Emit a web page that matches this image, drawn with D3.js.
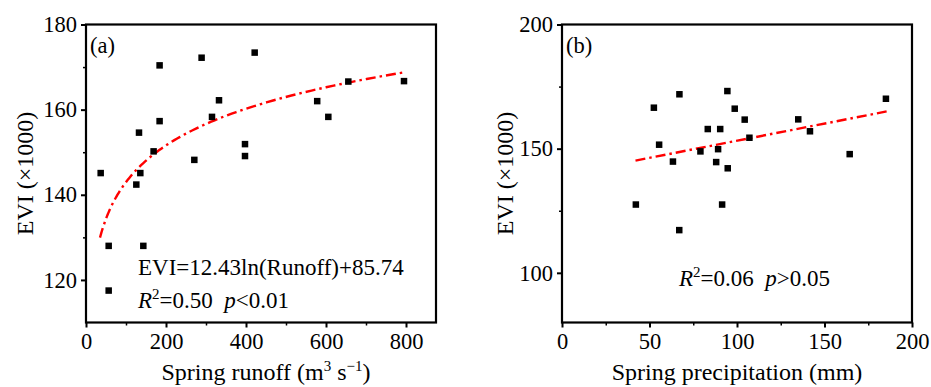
<!DOCTYPE html>
<html><head><meta charset="utf-8">
<script src="https://cdn.jsdelivr.net/npm/d3@7"></script>
<style>
body{margin:0;background:#fff;}
svg{display:block;font-family:"Liberation Serif","Times New Roman",serif;}
</style></head>
<body>
<svg id="chart" width="931" height="387"></svg>
<script>
// Panel (a): spring runoff vs EVI
const runoff = [36.7,125.8,132.5,135.8,169,184,184,270.8,289,315,332.5,397.5,397.5,421.7,578,605.8,655.8,795,56.7,143.3,56.7];
const eviA   = [145.1,142.4,154.6,145.1,150.2,170.4,157.3,148.2,172.2,158.3,162.2,151.9,149.1,173.4,162,158.3,166.6,166.7,128,128,117.5];
// Panel (b): spring precipitation vs EVI
const precip = [52.5,55.5,63.4,67.1,79.1,83.3,88.1,89.2,90.4,94.5,94.7,98.7,104.4,107.1,135,141.7,164.4,185.1,42.2,91.5,67];
const eviB   = [166.5,151.6,144.8,171.9,148.9,157.9,144.6,149.8,157.9,173.2,142.1,166.1,161.7,154.4,161.8,157,147.8,170.1,127.5,127.5,117.2];

// Fits
const fitA = {a: 12.43, b: 85.74, xmin: 35, xmax: 795};
const fitB = {slope: 0.138, intercept: 139.4, xmin: 42, xmax: 185.5};

const xTicksA = [0,200,400,600,800], xMinorA = [100,300,500,700];
const yTicksA = [120,140,160,180], yMinorA = [130,150,170];
const xTicksB = [0,50,100,150,200], xMinorB = [25,75,125,175];
const yTicksB = [100,150,200], yMinorB = [125,175];

const svg = d3.select("#chart");
const pTop = 24.5, pBottom = 322.5;

function panel(cfg){
  const x = d3.scaleLinear().domain(cfg.xdom).range([cfg.left, cfg.right]);
  const y = d3.scaleLinear().domain(cfg.ydom).range([pBottom, pTop]);
  const g = svg.append("g");

  // minor ticks
  g.append("g").attr("transform",`translate(0,${pBottom})`)
    .call(d3.axisBottom(x).tickValues(cfg.xMinor).tickSize(3).tickFormat(""))
    .call(s=>{s.select(".domain").remove(); s.selectAll("line").attr("stroke-width",1.5);});
  g.append("g").attr("transform",`translate(${cfg.left},0)`)
    .call(d3.axisLeft(y).tickValues(cfg.yMinor).tickSize(3).tickFormat(""))
    .call(s=>{s.select(".domain").remove(); s.selectAll("line").attr("stroke-width",1.5);});
  // major ticks
  g.append("g").attr("transform",`translate(0,${pBottom})`)
    .call(d3.axisBottom(x).tickValues(cfg.xTicks).tickSize(5).tickPadding(6).tickFormat(d3.format("d")))
    .call(s=>{s.select(".domain").remove(); s.selectAll("line").attr("stroke-width",2);
      s.selectAll("text").attr("font-size",22.5).attr("fill","#000").attr("font-family","Liberation Serif");});
  g.append("g").attr("transform",`translate(${cfg.left},0)`)
    .call(d3.axisLeft(y).tickValues(cfg.yTicks).tickSize(5).tickPadding(4).tickFormat(d3.format("d")))
    .call(s=>{s.select(".domain").remove(); s.selectAll("line").attr("stroke-width",2);
      s.selectAll("text").attr("font-size",22.5).attr("fill","#000").attr("font-family","Liberation Serif");});

  // frame
  g.append("rect").attr("x",cfg.left).attr("y",pTop)
    .attr("width",cfg.right-cfg.left).attr("height",pBottom-pTop)
    .attr("fill","none").attr("stroke","#000").attr("stroke-width",2.2);

  // fit line
  g.append("path").datum(cfg.fitPts)
    .attr("d", d3.line().x(d=>x(d[0])).y(d=>y(d[1])))
    .attr("fill","none").attr("stroke","#ff0000").attr("stroke-width",2.4)
    .attr("stroke-dasharray","10,4,2.5,4");

  // points
  const s = 6.5;
  g.selectAll("rect.pt").data(cfg.xs.map((v,i)=>[v,cfg.ys[i]])).join("rect")
    .attr("class","pt")
    .attr("x",d=>x(d[0])-s/2).attr("y",d=>y(d[1])-s/2)
    .attr("width",s).attr("height",s).attr("fill","#000");

  // panel label
  g.append("text").attr("x",cfg.left+4).attr("y",pTop+28)
    .attr("font-size",22.5).attr("fill","#000").text(cfg.label);

  // x title
  const xt = g.append("text").attr("x",(cfg.left+cfg.right)/2+cfg.xtShift).attr("y",380)
    .attr("text-anchor","middle").attr("font-size",24).attr("fill","#000");
  cfg.xTitle(xt);
  // y title
  g.append("text").attr("transform",`translate(${cfg.ytX},${(pTop+pBottom)/2}) rotate(-90)`)
    .attr("text-anchor","middle").attr("font-size",24).attr("fill","#000")
    .text("EVI (×1000)");
  return {x,y,g};
}

const ptsA = d3.range(0,101).map(i=>{
  const xv = fitA.xmin*Math.pow(fitA.xmax/fitA.xmin, i/100);
  return [xv, fitA.a*Math.log(xv)+fitA.b];
});
const ptsB = [fitB.xmin, fitB.xmax].map(xv=>[xv, fitB.slope*xv+fitB.intercept]);

const A = panel({left:86, right:436, xdom:[0,875], ydom:[110,180],
  xTicks:xTicksA, xMinor:xMinorA, yTicks:yTicksA, yMinor:yMinorA,
  xs:runoff, ys:eviA, fitPts:ptsA, label:"(a)", ytX:33, xtShift:5,
  xTitle: t=>{
    t.append("tspan").text("Spring runoff (m");
    t.append("tspan").attr("font-size",15).attr("dy",-9).text("3");
    t.append("tspan").attr("dy",9).text(" s");
    t.append("tspan").attr("font-size",15).attr("dy",-9).text("−1");
    t.append("tspan").attr("dy",9).text(")");
  }});

const B = panel({left:562, right:912, xdom:[0,200], ydom:[80,200],
  xTicks:xTicksB, xMinor:xMinorB, yTicks:yTicksB, yMinor:yMinorB,
  xs:precip, ys:eviB, fitPts:ptsB, label:"(b)", ytX:513, xtShift:0,
  xTitle: t=>{ t.text("Spring precipitation (mm)"); }});

// annotations
function rsq(g, x0, y0, r2, p){
  const t = g.append("text").attr("x",x0).attr("y",y0).attr("font-size",23).attr("fill","#000");
  t.append("tspan").attr("font-style","italic").text("R");
  t.append("tspan").attr("font-size",15).attr("dy",-9).text("2");
  t.append("tspan").attr("dy",9).text("=" + r2 + "\u00a0\u00a0");
  t.append("tspan").attr("font-style","italic").text("p");
  t.append("tspan").text(p);
}
A.g.append("text").attr("x",138).attr("y",275).attr("font-size",23).attr("fill","#000")
  .text("EVI=12.43ln(Runoff)+85.74");
rsq(A.g, 138, 308, "0.50", "<0.01");
rsq(B.g, 679, 286, "0.06", ">0.05");
</script>
</body></html>
